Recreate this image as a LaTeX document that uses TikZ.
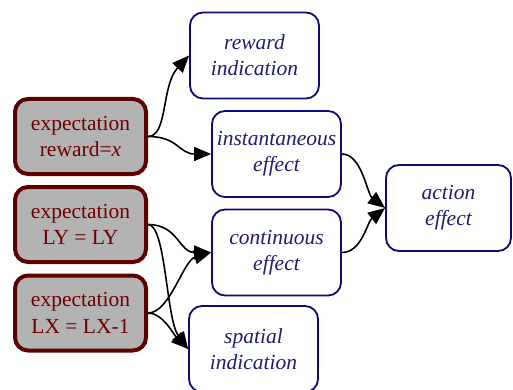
\documentclass[tikz,border=0pt]{standalone}
\usepackage{fontspec}
\setmainfont{Liberation Serif}
\usetikzlibrary{arrows.meta,calc}
\definecolor{exfill}{HTML}{B3B3B3}
\definecolor{exline}{HTML}{5E0000}
\definecolor{extext}{HTML}{6E0000}
\definecolor{efline}{HTML}{0C0C7A}
\definecolor{eftext}{HTML}{1E1E78}
\begin{document}
\begin{tikzpicture}[x=1pt,y=-1pt,
 expbox/.style={draw=exline,fill=exfill,line width=4pt,rounded corners=13pt,minimum width=131pt,minimum height=75pt,align=center,text=extext,font=\fontsize{21.5}{26.5}\selectfont,inner sep=0pt},
 effbox/.style={draw=efline,line width=1.8pt,fill=white,rounded corners=13pt,minimum width=129pt,minimum height=86pt,align=center,text=eftext,font=\fontsize{21.5}{26}\selectfont\itshape,inner sep=0pt},
 edge/.style={line width=1.6pt,-{Triangle[length=17pt,width=14pt]}}]
\useasboundingbox (0,0) rectangle (513,390);
\node[expbox] (b1) at (80.5,136.5) {expectation\\reward=\textit{x}};
\node[expbox] (b2) at (80.5,224.5) {expectation\\LY = LY};
\node[expbox] (b3) at (80.5,313) {expectation\\LX = LX-1};
\node[effbox] (ri) at (254.5,55.5) {reward\\indication};
\node[effbox] (ie) at (276.5,154) {instantaneous\\effect};
\node[effbox] (ce) at (276.5,252.5) {continuous\\effect};
\node[effbox] (si) at (253.5,349) {spatial\\indication};
\node[effbox,minimum width=125pt] (ae) at (448.5,208) {action\\effect};
\draw[edge] (b1.east) .. controls ($(b1.east)+(20,0)$) and ($(ri.west)+(-28,30)$) .. (ri.west);
\draw[edge] (b1.east) .. controls ($(b1.east)+(30,0)$) and ($(ie.west)+(-32,0)$) .. (ie.west);
\draw[edge] (b2.east) .. controls ($(b2.east)+(30,0)$) and ($(ce.west)+(-32,0)$) .. (ce.west);
\draw[edge] (b3.east) .. controls ($(b3.east)+(22,0)$) and ($(ce.west)+(-28,8)$) .. (ce.west);
\draw[edge] (b2.east) .. controls ($(b2.east)+(18,0)$) and ($(si.west)+(-22,-30)$) .. (si.west);
\draw[edge] (b3.east) .. controls ($(b3.east)+(15,0)$) and ($(si.west)+(-15,-15)$) .. (si.west);
\draw[edge] (ie.east) .. controls ($(ie.east)+(20,0)$) and ($(ae.west)+(-18,-14)$) .. (ae.west);
\draw[edge] (ce.east) .. controls ($(ce.east)+(20,0)$) and ($(ae.west)+(-18,14)$) .. (ae.west);
\end{tikzpicture}
\end{document}
